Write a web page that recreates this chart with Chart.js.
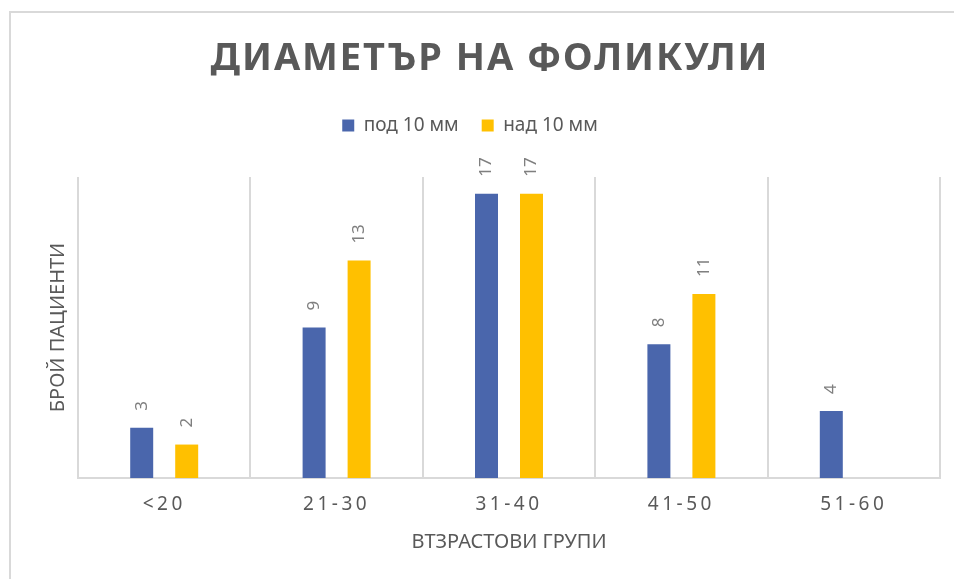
<!DOCTYPE html>
<html>
<head>
<meta charset="utf-8">
<script src="https://cdn.jsdelivr.net/npm/chart.js@4.4.0/dist/chart.umd.min.js"></script>
<style>
  body { margin: 0; background: #fff; }
  #wrap { position: relative; width: 954px; height: 579px; overflow: hidden; }
  #frame { position: absolute; left: 9px; top: 11px; width: 1000px; height: 1000px; border: 2px solid #d9d9d9; }
  canvas { position: absolute; left: 0; top: 0; }
</style>
</head>
<body>
<div id="wrap"><div id="frame"></div><canvas id="chart" width="954" height="579"></canvas></div>
<script>
const chartTitle = 'ДИАМЕТЪР НА ФОЛИКУЛИ';
const categories = ['<20', '21-30', '31-40', '41-50', '51-60'];
const seriesNames = ['под 10 мм', 'над 10 мм'];
const under10 = [3, 9, 17, 8, 4];
const over10 = [2, 13, 17, 11, null];
const yTitle = 'БРОЙ ПАЦИЕНТИ';
const xTitle = 'ВТЗРАСТОВИ ГРУПИ';

Chart.defaults.font.family = '"Noto Sans", sans-serif';

// value labels (rotated) + spaced-out tick labels + the chart title
const extras = {
    id: 'extras',
    beforeDraw(chart) {
        chart.ctx.letterSpacing = '0px';
    },
    afterDatasetsDraw(chart) {
        let ctx = chart.ctx;
        ctx.save();
        ctx.font = '17px "Noto Sans"';
        ctx.fillStyle = '#7f7f7f';
        ctx.textAlign = 'left';
        ctx.textBaseline = 'middle';
        chart.data.datasets.forEach((ds, i) => {
            chart.getDatasetMeta(i).data.forEach((bar, j) => {
                let v = ds.data[j];
                if (v == null) return;
                ctx.save();
                ctx.translate(bar.x, bar.y - 17);
                ctx.rotate(-Math.PI / 2);
                ctx.fillText(String(v), 0, 0);
                ctx.restore();
            });
        });
        ctx.restore();
        // x tick labels are drawn after this point (ticks.z = 1)
        ctx.letterSpacing = '3.5px';
    },
    afterDraw(chart) {
        let ctx = chart.ctx;
        ctx.letterSpacing = '0px';
        ctx.save();
        ctx.font = 'bold 38px "Noto Sans"';
        ctx.fillStyle = '#595959';
        let w = ctx.measureText(chartTitle).width;
        let ls = (557 - w) / (chartTitle.length - 1);
        ctx.letterSpacing = ls + 'px';
        ctx.textAlign = 'center';
        ctx.textBaseline = 'middle';
        ctx.fillText(chartTitle, 489 + ls / 2, 59);
        ctx.restore();
        ctx.letterSpacing = '0px';
    }
};

let myChart = new Chart(document.getElementById('chart'), {
    type: 'bar',
    data: {
        labels: categories,
        datasets: [
            { label: seriesNames[0], data: under10, backgroundColor: '#4a66ac', borderWidth: 0, xAxisID: 'x', yAxisID: 'y' },
            { label: seriesNames[1], data: over10, backgroundColor: '#ffc000', borderWidth: 0, xAxisID: 'x', yAxisID: 'y' }
        ]
    },
    options: {
        responsive: false,
        animation: false,
        categoryPercentage: 0.522,
        barPercentage: 0.511,
        layout: { padding: { top: 93, right: 14, left: 0, bottom: 0 } },
        plugins: {
            legend: {
                position: 'top',
                labels: {
                    boxWidth: 12,
                    boxHeight: 12,
                    padding: 23,
                    color: '#595959',
                    font: { size: 19 }
                }
            },
            tooltip: { enabled: false }
        },
        scales: {
            x: {
                grid: { color: '#d9d9d9', lineWidth: 2, drawTicks: false, offset: true },
                border: { color: '#d9d9d9', width: 2 },
                ticks: { z: 1, color: '#595959', padding: 15, font: { size: 19 } },
                title: { display: true, text: xTitle, color: '#595959', font: { size: 20 }, padding: { top: 0, bottom: 25 } },
                afterFit: s => { s.height = 101; }
            },
            spacer: {
                type: 'category',
                position: 'top',
                grid: { display: false },
                border: { display: false },
                ticks: { display: false },
                afterFit: s => { s.height = 32; }
            },
            y: {
                min: 0,
                max: 18,
                grid: { display: false },
                border: { display: false },
                ticks: { display: false },
                title: { display: true, text: yTitle, color: '#595959', font: { size: 20 }, padding: { top: 46, bottom: 0 } },
                afterFit: s => { s.width = 78; }
            }
        }
    },
    plugins: [extras]
});
</script>
</body>
</html>
